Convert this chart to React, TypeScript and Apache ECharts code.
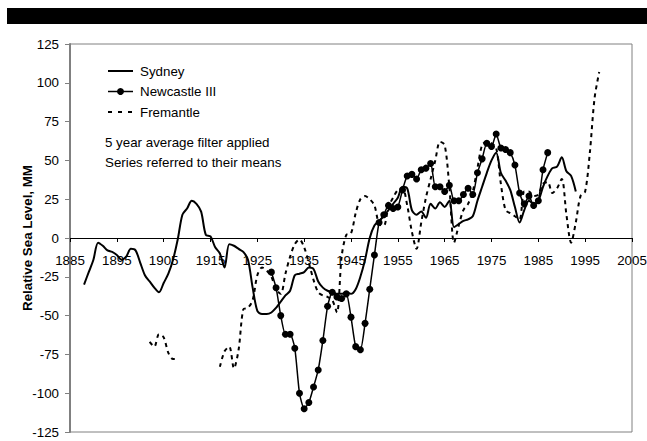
import React, { useEffect, useRef } from "react";
import * as echarts from "echarts";

const FIRST_YEAR = 1885;
const LAST_YEAR = 2005;
const years: string[] = [];
for (let y = FIRST_YEAR; y <= LAST_YEAR; y++) years.push(String(y));

const yTicks = { min: -125, max: 125, step: 25 };

const sydneyStart = 1888;
const sydney = [
  -30, -22, -14, -3, -5, -8, -9, -11, -14, -12,
  -7, -8, -16, -24, -28, -32, -35, -29, -23, -14,
  -1, 15, 19, 24, 22, 17, 2, 1, -6, -10,
  -19, -4, -5, -7, -9, -14, -32, -47, -49, -49,
  -48, -45, -41, -37, -34, -24, -23, -22, -19, -20,
  -28, -32, -34, -35, -36, -36, -35, -36, -33, -25,
  -14, 0, 8, 11, 14, 18, 22, 26, 33, 32,
  18, 15, 17, 13, 22, 19, 23, 20, 24, 7,
  9, 11, 12, 14, 24, 33, 42, 50, 55, 42,
  37, 31, 20, 10, 18, 24, 22, 24, 33, 40,
  45, 46, 52, 43, 40, 30,
];

const newcastleStart = 1928;
const newcastle = [
  -22, -32, -50, -62, -62, -71, -100, -110, -106, -96,
  -85, -66, -44, -35, -38, -39, -36, -51, -70, -72,
  -55, -33, -11, 10, 15, 21, 19, 20, 31, 40,
  41, 38, 44, 45, 48, 33, 33, 30, 34, 24,
  24, 28, 32, 28, 42, 51, 61, 59, 67, 58,
  57, 55, 47, 29, 22, 27, 21, 24, 44, 55,
];

const fremantleAStart = 1902;
const fremantleA = [-67, -70, -62, -64, -74, -78, -78];

const fremantleBStart = 1917;
const fremantleB = [
  -83, -73, -70, -84, -72, -46, -45, -40, -24, -19,
  -21, -25, -33, -36, -23, -12, -4, -1, -6, -16,
  -27, -35, -37, -38, -40, -48, -12, 2, 3, 16,
  25, 27, 25, 21, 9, 8, 20, 26, 31, 32,
  21, 4, -7, 10, 26, 38, 50, 62, 60, 33,
  -3, 8, 18, 22, 30, 45, 60, 62, 61, 58,
  35, 18, 16, 14, 12, 30, 30, 27, 28, 35,
  36, 29, 32, 38, 15, -3, 10, 27, 30, 55,
  90, 107,
];

const seriesNames = ["Sydney", "Newcastle III", "Fremantle"];
const notes = ["5 year average filter applied", "Series referred to their means"];

function place(target: (number | null)[], start: number, vals: number[]) {
  vals.forEach((v, i) => {
    target[start - FIRST_YEAR + i] = v;
  });
  return target;
}
function blank(): (number | null)[] {
  return years.map(() => null);
}

const FONT = "'Liberation Sans', Arial, sans-serif";
const FS = 13.33;

// layout (pixels)
const GRID_TOP = 44;
const GRID_BOTTOM_Y = 432;
const GRID_LEFT = 70;
const GRID_RIGHT_X = 632;
const W = 647;
const H = 441;
const ZERO_Y = GRID_TOP + ((GRID_BOTTOM_Y - GRID_TOP) * yTicks.max) / (yTicks.max - yTicks.min);

export default function App() {
  const ref = useRef<HTMLDivElement>(null);
  useEffect(() => {
    if (!ref.current) return;
    const chart = echarts.init(ref.current, undefined, { renderer: "svg" });
    const sydData = place(blank(), sydneyStart, sydney);
    const newData = place(blank(), newcastleStart, newcastle);
    const freData = place(place(blank(), fremantleAStart, fremantleA), fremantleBStart, fremantleB);

    const legendX0 = 108;
    const legendX1 = 133;
    const legendY = [71, 91.5, 112];
    const legendGraphics: any[] = [];
    legendGraphics.push({
      type: "line",
      shape: { x1: legendX0, y1: legendY[0], x2: legendX1, y2: legendY[0] },
      style: { stroke: "#000", lineWidth: 2 },
      silent: true,
    });
    legendGraphics.push({
      type: "line",
      shape: { x1: legendX0, y1: legendY[1], x2: legendX1, y2: legendY[1] },
      style: { stroke: "#000", lineWidth: 1.5 },
      silent: true,
    });
    legendGraphics.push({
      type: "circle",
      shape: { cx: (legendX0 + legendX1) / 2, cy: legendY[1], r: 3.5 },
      style: { fill: "#000" },
      silent: true,
    });
    legendGraphics.push({
      type: "line",
      shape: { x1: legendX0, y1: legendY[2], x2: legendX1, y2: legendY[2] },
      style: { stroke: "#000", lineWidth: 2, lineDash: [4, 6] },
      silent: true,
    });
    seriesNames.forEach((n, i) => {
      legendGraphics.push({
        type: "text",
        x: 140,
        y: legendY[i],
        style: { text: n, fontSize: FS, fontFamily: FONT, fill: "#000", verticalAlign: "middle" },
        silent: true,
      });
    });

    chart.setOption({
      animation: false,
      backgroundColor: "#ffffff",
      textStyle: { fontFamily: FONT },
      grid: {
        left: GRID_LEFT,
        right: W - GRID_RIGHT_X,
        top: GRID_TOP,
        bottom: H - GRID_BOTTOM_Y,
        containLabel: false,
        outerBoundsMode: "none",
        show: true,
        borderColor: "#808080",
        borderWidth: 1,
        backgroundColor: "transparent",
      },
      xAxis: {
        type: "category",
        data: years,
        boundaryGap: false,
        offset: -(GRID_BOTTOM_Y - ZERO_Y),
        axisLine: { onZero: false, lineStyle: { color: "#000", width: 1 } },
        axisTick: { show: true, interval: 9, length: 4, lineStyle: { color: "#000" } },
        axisLabel: { interval: 9, margin: 16, fontSize: FS, color: "#000", fontFamily: FONT },
        splitLine: { show: false },
      },
      yAxis: {
        type: "value",
        min: yTicks.min,
        max: yTicks.max,
        interval: yTicks.step,
        name: "Relative Sea Level, MM",
        nameLocation: "middle",
        nameGap: 36,
        nameMoveOverlap: false,
        nameTextStyle: { fontSize: FS, fontWeight: "bold", color: "#000", fontFamily: FONT },
        axisLine: { show: true, lineStyle: { color: "#808080", width: 2 } },
        axisTick: { show: true, length: 5, lineStyle: { color: "#808080" } },
        axisLabel: { margin: 11, fontSize: FS, color: "#000", fontFamily: FONT },
        splitLine: { show: false },
      },
      graphic: [
        {
          type: "rect",
          shape: { x: 7, y: 8, width: 640, height: 16 },
          style: { fill: "#000" },
          silent: true,
        },
        ...legendGraphics,
        ...notes.map((t, i) => ({
          type: "text",
          x: 105,
          y: 142 + i * 20,
          style: {
            text: t,
            fontSize: FS,
            fontFamily: FONT,
            fill: "#000",
            verticalAlign: "middle",
          },
          silent: true,
        })),
      ],
      series: [
        {
          name: seriesNames[0],
          type: "line",
          data: sydData,
          symbol: "none",
          smooth: 0.3,
          connectNulls: false,
          lineStyle: { color: "#000", width: 2 },
          itemStyle: { color: "#000" },
        },
        {
          name: seriesNames[1],
          type: "line",
          data: newData,
          symbol: "circle",
          symbolSize: 7,
          showAllSymbol: true,
          smooth: 0.2,
          connectNulls: false,
          lineStyle: { color: "#000", width: 1.5 },
          itemStyle: { color: "#000" },
        },
        {
          name: seriesNames[2],
          type: "line",
          data: freData,
          symbol: "none",
          smooth: 0.3,
          connectNulls: false,
          lineStyle: { color: "#000", width: 2, type: [4, 4] },
          itemStyle: { color: "#000" },
        },
      ],
    });
    return () => chart.dispose();
  }, []);
  return (
    <div
      ref={ref}
      style={{ position: "fixed", left: 0, top: 0, width: W, height: H, background: "#fff" }}
    />
  );
}
